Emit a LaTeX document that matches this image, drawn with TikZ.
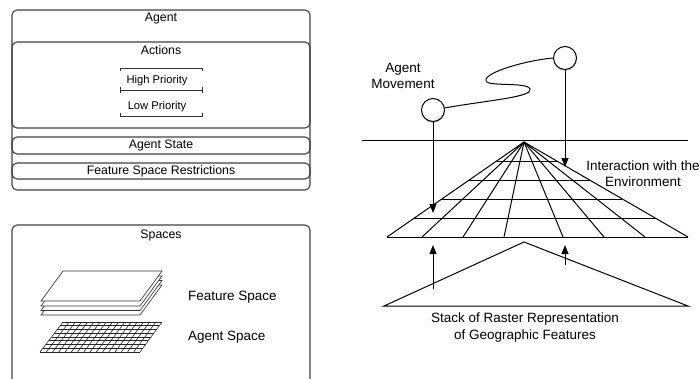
\documentclass[tikz,border=0pt]{standalone}
\usepackage{fontspec}
\setmainfont{Liberation Sans}
\usetikzlibrary{arrows.meta,shadows}
\begin{document}
\begin{tikzpicture}[x=1pt,y=-1pt,
  panel/.style={draw=black!75, line width=1.1pt, rounded corners=5pt},
  boxlabel/.style={inner sep=0pt, font=\fontsize{12.3}{14}\selectfont},
  prio/.style={inner sep=0pt, font=\fontsize{11.2}{13}\selectfont},
  biglabel/.style={inner sep=0pt, align=center, font=\fontsize{13.5}{16.5}\selectfont},
  bracket/.style={draw=black!80, line width=1pt},
  gridline/.style={draw=black, line width=1pt},
  thin/.style={draw=black!85, line width=0.6pt},
  plate/.style={draw=black!80, line width=0.65pt, fill=white},
  agentdot/.style={circle, draw, line width=1pt, fill=white, minimum size=23pt, inner sep=0pt,
    drop shadow={shadow xshift=0pt, shadow yshift=-1.5pt, opacity=0.35}},
  arr/.style={draw=black, line width=1pt, -{Triangle[length=9pt,width=7pt]}}
]
\clip (0,0) rectangle (700,378);

% ---------- Agent panel ----------
\path[panel] (12,10) rectangle (310,190);
\path[panel] (12,42) rectangle (310,128);
\path[panel] (12,137) rectangle (310,154);
\path[panel] (12,163) rectangle (310,179);
\node[boxlabel] (agent) at (161,19) {Agent};
\node[boxlabel] (actions) at (161,50) {Actions};
\node[prio] (high) at (157,81) {High Priority};
\node[prio] (low) at (157,107) {Low Priority};
\node[boxlabel] (state) at (161,145.5) {Agent State};
\node[boxlabel] (restr) at (161,171) {Feature Space Restrictions};

% priority brackets
\draw[bracket] (120,71) -- (120,68) -- (202,68) -- (202,71);
\draw[bracket] (120,90) -- (202,90);
\draw[bracket] (120,87) -- (120,93);
\draw[bracket] (202,87) -- (202,93);
\draw[bracket] (120,113) -- (120,116) -- (202,116) -- (202,113);

% ---------- Spaces panel ----------
\path[panel] (12,225) rectangle (310,400);
\node[boxlabel] (spaces) at (161,235) {Spaces};

% feature space: stack of plates
\foreach \d in {14,9.5,5,0}{
  \path[plate] (41,301+\d) -- (140,301+\d) -- (162,271+\d) -- (63,271+\d) -- cycle;
}
% agent space: raster grid
\foreach \i in {0,...,16}{
  \draw[thin] (40+\i*100/16,352) -- (63+\i*99/16,322);
}
\foreach \j in {0,...,8}{
  \draw[thin] (40+\j*23/8,352-\j*30/8) -- (140+\j*22/8,352-\j*30/8);
}
\node[biglabel, anchor=west] (fspace) at (188,297) {Feature Space};
\node[biglabel, anchor=west] (aspace) at (188,337) {Agent Space};

% ---------- Environment ----------
\draw[gridline] (362,140) -- (688,140);
\coordinate (apex) at (524,142);
\foreach \bx in {387,422,463,504,563,604,645,688}{
  \draw[gridline] (apex) -- (\bx,237);
}
\foreach \t in {0.2,0.4,0.6,0.8,1.0}{
  \draw[gridline] ({524+\t*(387-524)},{142+\t*95}) -- ({524+\t*(688-524)},{142+\t*95});
}
% raster stack
\draw[gridline, line join=miter] (384,306) -- (524,242) -- (688,306) -- cycle;

% agents and their movement
\node[agentdot] (posA) at (433,110) {};
\node[agentdot] (posB) at (565,58) {};
\draw[line width=1pt] (posA.10) .. controls (490,100) and (533,97) .. (530,89)
  .. controls (527,81) and (481,88) .. (486,79)
  .. controls (491,70) and (530,60) .. (posB.west);

\coordinate (hitA) at (433,213);
\coordinate (hitB) at (565,167);
\draw[arr] (posA.south) -- (hitA);
\draw[arr] (posB.south) -- (hitB);

\coordinate (srcA) at (433,289);
\coordinate (srcB) at (565,265);
\coordinate (upA) at (433,245);
\coordinate (upB) at (565,245);
\draw[arr] (srcA) -- (upA);
\draw[arr] (srcB) -- (upB);

\node[biglabel] (move) at (403,76) {Agent\\Movement};
\node[biglabel] (inter) at (643,173.5) {Interaction with the\\Environment};
\node[biglabel] (stack) at (525,327.5) {Stack of Raster Representation\\of Geographic Features};
\end{tikzpicture}
\end{document}
